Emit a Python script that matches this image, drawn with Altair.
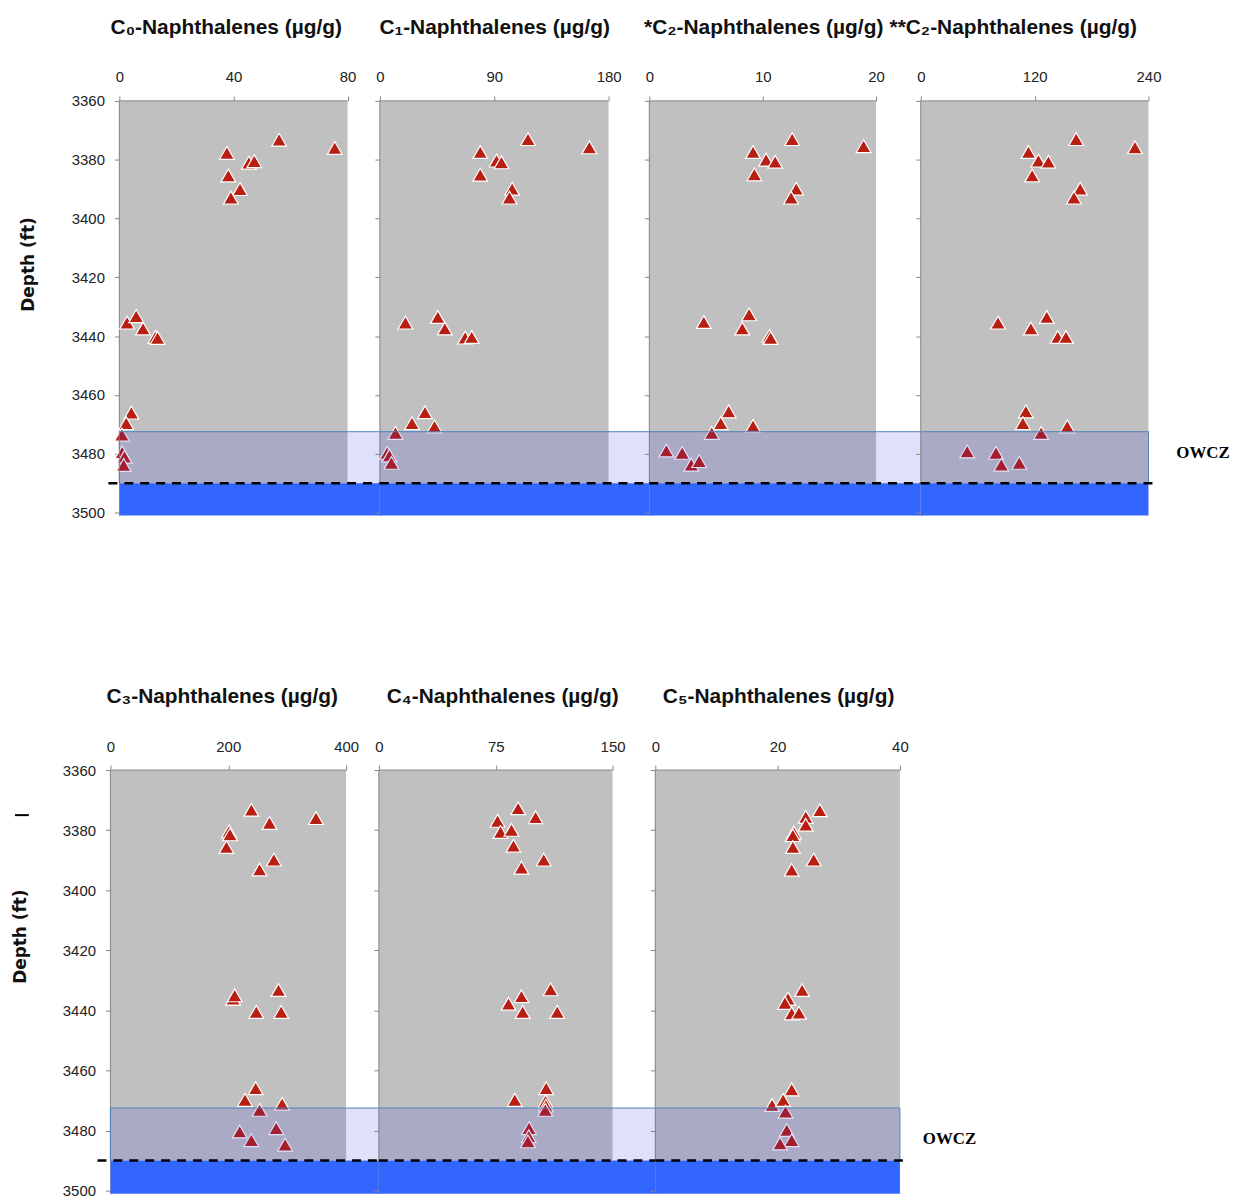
import altair as alt
import pandas as pd

# ---------------- data ----------------
c0_depth = [3373.2, 3376.0, 3377.7, 3381.0, 3380.5, 3385.4, 3390.0, 3392.9,
            3435.4, 3433.2, 3437.4, 3440.3, 3440.6,
            3466.0, 3469.6, 3473.5, 3479.5, 3481.0, 3483.8]
c0_val = [56.0, 75.5, 37.7, 45.4, 47.3, 38.2, 42.3, 39.1,
          2.7, 5.9, 8.3, 12.6, 13.4,
          4.2, 2.4, 0.9, 1.0, 1.8, 1.5]

c1_depth = [3373.0, 3375.8, 3377.4, 3380.3, 3380.9, 3385.1, 3389.9, 3392.9,
            3435.4, 3433.5, 3437.4, 3440.5, 3440.3,
            3465.9, 3469.6, 3470.7, 3472.9, 3479.7, 3480.6, 3483.1]
c1_val = [116.6, 164.9, 79.0, 91.8, 95.7, 79.0, 104.1, 102.0,
          20.1, 45.6, 51.1, 67.1, 72.3,
          35.5, 25.3, 43.0, 12.3, 5.7, 7.5, 9.1]

c2a_depth = [3373.0, 3375.4, 3377.4, 3380.0, 3380.7, 3385.0, 3389.9, 3392.9,
             3435.2, 3432.6, 3437.4, 3439.9, 3440.6,
             3465.6, 3469.6, 3470.5, 3472.9, 3478.9, 3479.7, 3483.7, 3482.5]
c2a_val = [12.6, 18.9, 9.15, 10.3, 11.1, 9.27, 12.96, 12.5,
           4.8, 8.8, 8.2, 10.6, 10.7,
           7.0, 6.3, 9.15, 5.5, 1.5, 2.9, 3.7, 4.4]

c2b_depth = [3373.0, 3375.8, 3377.4, 3380.3, 3380.7, 3385.4, 3389.9, 3392.9,
             3435.4, 3433.5, 3437.4, 3440.3, 3440.3,
             3465.6, 3469.6, 3470.7, 3472.9, 3479.2, 3479.7, 3483.7, 3483.1]
c2b_val = [163.8, 225.7, 113.5, 124.0, 134.5, 117.4, 168.0, 161.4,
           81.4, 132.8, 116.0, 144.3, 153.0,
           110.7, 107.6, 154.4, 126.8, 48.9, 79.3, 84.9, 103.8]

c3_depth = [3373.2, 3376.0, 3377.6, 3380.4, 3381.4, 3385.6, 3389.8, 3393.1,
            3436.1, 3435.0, 3433.2, 3440.5, 3440.5,
            3465.9, 3469.8, 3471.1, 3473.1, 3480.3, 3479.2, 3483.2, 3484.7]
c3_val = [239.2, 348.9, 270.0, 201.4, 203.0, 197.0, 277.4, 253.2,
          208.2, 211.0, 285.3, 247.6, 289.8,
          246.5, 228.4, 291.5, 253.2, 219.4, 281.4, 239.2, 296.6]

c4_depth = [3372.7, 3375.7, 3376.9, 3380.6, 3379.9, 3385.2, 3389.8, 3392.5,
            3437.8, 3435.3, 3440.5, 3433.0, 3440.5,
            3465.9, 3469.8, 3470.3, 3471.7, 3473.1, 3479.2, 3481.9, 3483.6]
c4_val = [89.4, 100.6, 76.2, 78.1, 85.1, 86.4, 105.8, 91.5,
          83.2, 91.5, 92.3, 110.2, 114.5,
          107.4, 87.2, 107.0, 107.2, 106.8, 96.4, 96.2, 95.7]

c5_depth = [3373.4, 3375.6, 3378.2, 3380.8, 3381.7, 3385.6, 3389.8, 3393.2,
            3436.1, 3437.5, 3433.2, 3441.0, 3440.8,
            3466.3, 3471.5, 3469.8, 3473.7, 3479.8, 3483.2, 3484.3]
c5_val = [26.9, 24.6, 24.6, 22.65, 22.5, 22.5, 25.9, 22.3,
          21.7, 21.2, 24.0, 22.3, 23.5,
          22.3, 19.1, 20.9, 21.3, 21.5, 22.3, 20.4]

titles = ["C\u2080-Naphthalenes (\u00b5g/g)", "C\u2081-Naphthalenes (\u00b5g/g)",
          "*C\u2082-Naphthalenes (\u00b5g/g)", "**C\u2082-Naphthalenes (\u00b5g/g)",
          "C\u2083-Naphthalenes (\u00b5g/g)", "C\u2084-Naphthalenes (\u00b5g/g)",
          "C\u2085-Naphthalenes (\u00b5g/g)"]
x_max = [80, 180, 20, 240, 400, 150, 40]
x_ticks = [[0, 40, 80], [0, 90, 180], [0, 10, 20], [0, 120, 240],
           [0, 200, 400], [0, 75, 150], [0, 20, 40]]
y_ticks = [3360, 3380, 3400, 3420, 3440, 3460, 3480, 3500]
Y_MIN, Y_MAX = 3360, 3501
GRAY_BOTTOM = 3490      # oil-water contact (dashed line)
OWCZ_TOP = 3472.5       # top of oil-water contact zone
OWCZ_LABEL = "OWCZ"
Y_TITLE = "Depth (ft)"

# ---------------- styling ----------------
AXIS_GRAY = "#868686"
LABEL_FONT = "Liberation Sans Narrow, Liberation Sans, sans-serif"
TITLE_FONT = "Liberation Sans Narrow, Liberation Sans, sans-serif"


def make_panel(idx, vals, depths, gray_w, total_w, height, title_dx,
               first=False, last=False, lpad=0, ytitle_x=-91, ytitle_y=164,
               rule_left_px=0, rule_right_px=0, owcz_px=28, owcz_depth=3480,
               dash_mark=None):
    xmax = x_max[idx]
    per_px = xmax / gray_w
    xdom = xmax * total_w / gray_w
    xscale = alt.Scale(domain=[-lpad * per_px, xdom], nice=False, zero=False)
    yscale = alt.Scale(domain=[Y_MIN, Y_MAX], reverse=True, nice=False, zero=False)
    xaxis = alt.Axis(orient="top", values=x_ticks[idx], domain=False, grid=False,
                     tickSize=5, tickColor=AXIS_GRAY, labelFont=LABEL_FONT,
                     labelFontSize=15, labelColor="#222", labelPadding=11,
                     labelFlush=False, labelOverlap=False, title=None)
    yaxis_kw = dict(values=y_ticks, grid=False, domain=True, domainColor=AXIS_GRAY,
                    tickColor=AXIS_GRAY, tickSize=5, labels=first, format="d",
                    labelFont=LABEL_FONT, labelFontSize=15, labelColor="#222",
                    labelPadding=10, labelFlush=False, labelOverlap=False,
                    offset=-lpad)
    if first:
        yaxis = alt.Axis(title=Y_TITLE, titleFont="DejaVu Sans", titleFontSize=17,
                         titleFontWeight="bold", titleColor="#111", titleAngle=270,
                         titleAlign="center", titleBaseline="middle",
                         titleX=ytitle_x, titleY=ytitle_y, **yaxis_kw)
    else:
        yaxis = alt.Axis(title=None, **yaxis_kw)

    def X(f):
        return alt.X(f, type="quantitative", scale=xscale, axis=xaxis)

    def Y(f):
        return alt.Y(f, type="quantitative", scale=yscale, axis=yaxis)

    band_end = xmax if last else xdom
    layers = []
    gray = alt.Chart(pd.DataFrame({"x": [0], "x2": [xmax], "y": [Y_MIN], "y2": [GRAY_BOTTOM]})).mark_rect(
        fill="#c0c0c0", strokeWidth=0).encode(x=X("x"), x2="x2", y=Y("y"), y2="y2")
    layers.append(gray)
    # plot-area border lines (top axis line and left axis line)
    layers.append(alt.Chart(pd.DataFrame({"x": [0], "x2": [xmax], "y": [Y_MIN]})).mark_rule(
        color=AXIS_GRAY, strokeWidth=1).encode(x=X("x"), x2="x2", y=Y("y")))
    layers.append(alt.Chart(pd.DataFrame({"x": [0], "y": [Y_MIN], "y2": [GRAY_BOTTOM]})).mark_rule(
        color=AXIS_GRAY, strokeWidth=1).encode(x=X("x"), y=Y("y"), y2="y2"))
    pts = alt.Chart(pd.DataFrame({"x": vals, "y": depths})).mark_point(
        shape="triangle-up", filled=True, fill="#b81e12", stroke="white", strokeWidth=1.2,
        size=220, opacity=1, fillOpacity=1).encode(x=X("x"), y=Y("y"))
    layers.append(pts)
    band = alt.Chart(pd.DataFrame({"x": [0], "x2": [band_end], "y": [OWCZ_TOP], "y2": [GRAY_BOTTOM]})).mark_rect(
        fill="#2626dc", fillOpacity=0.14, strokeWidth=0).encode(x=X("x"), x2="x2", y=Y("y"), y2="y2")
    layers.append(band)
    band_top = alt.Chart(pd.DataFrame({"x": [0], "x2": [band_end], "y": [OWCZ_TOP]})).mark_rule(
        color="#4f81bd", strokeWidth=1).encode(x=X("x"), x2="x2", y=Y("y"))
    layers.append(band_top)
    edges = []
    if first:
        edges.append(0)
    if last:
        edges.append(xmax)
    if edges:
        layers.append(alt.Chart(pd.DataFrame({"x": edges, "y": [OWCZ_TOP] * len(edges),
                                              "y2": [GRAY_BOTTOM] * len(edges)})).mark_rule(
            color="#4f81bd", strokeWidth=1).encode(x=X("x"), y=Y("y"), y2="y2"))
    blue = alt.Chart(pd.DataFrame({"x": [0], "x2": [band_end], "y": [GRAY_BOTTOM], "y2": [Y_MAX]})).mark_rect(
        fill="#3366ff", strokeWidth=0).encode(x=X("x"), x2="x2", y=Y("y"), y2="y2")
    layers.append(blue)
    dash_start = -rule_left_px * per_px
    dash_end = (xmax if last else xdom) + rule_right_px * per_px
    dashed = alt.Chart(pd.DataFrame({"x": [dash_start], "x2": [dash_end], "y": [GRAY_BOTTOM]})).mark_rule(
        color="black", strokeWidth=2.5, strokeDash=[9, 7]).encode(x=X("x"), x2="x2", y=Y("y"))
    layers.append(dashed)
    if last:
        layers.append(alt.Chart(pd.DataFrame({"x": [xmax + owcz_px * per_px], "y": [owcz_depth],
                                              "t": [OWCZ_LABEL]})).mark_text(
            font="Liberation Serif", fontSize=17, fontWeight="bold", color="black",
            align="left", baseline="middle").encode(x=X("x"), y=Y("y"), text="t:N"))
    if dash_mark is not None:
        layers.append(alt.Chart(pd.DataFrame({"x": [dash_mark[0] * per_px], "x2": [dash_mark[1] * per_px],
                                              "y": [dash_mark[2]]})).mark_rule(
            color="black", strokeWidth=2).encode(x=X("x"), x2="x2", y=Y("y")))

    return alt.layer(*layers).properties(
        width=total_w + lpad, height=height,
        title=alt.TitleParams(text=titles[idx], font=TITLE_FONT, fontSize=21, fontWeight="bold",
                              color="#111", anchor="middle", frame="group", dx=title_dx, offset=32))


TOP_H = 417
BOT_H = 426

p1 = make_panel(0, c0_val, c0_depth, 229.5, 262, TOP_H, -19, first=True, lpad=9, rule_left_px=11,
                ytitle_x=-91, ytitle_y=164)
p2 = make_panel(1, c1_val, c1_depth, 230, 271, TOP_H, -20)
p3 = make_panel(2, c2a_val, c2a_depth, 228, 273, TOP_H, -21.5)
p4 = make_panel(3, c2b_val, c2b_depth, 229, 229, TOP_H, -21.5, last=True, rule_right_px=8,
                owcz_px=28, owcz_depth=3479.7)

p5 = make_panel(4, c3_val, c3_depth, 237, 270, BOT_H, -22.5, first=True, rule_left_px=13,
                ytitle_x=-90, ytitle_y=167, dash_mark=(-96, -82, 3375))
p6 = make_panel(5, c4_val, c4_depth, 235, 278, BOT_H, -14.5)
p7 = make_panel(6, c5_val, c5_depth, 246, 246, BOT_H, 1, last=True, rule_right_px=6,
                owcz_px=23, owcz_depth=3482.7)

top = alt.hconcat(p1, p2, p3, p4, spacing=0, bounds="flush")
bottom = alt.hconcat(p5, p6, p7, spacing=0, bounds="flush")

chart = alt.vconcat(top, bottom, spacing=166).configure_view(
    stroke=None).properties(background="white",
                            padding={"left": 4, "top": 6, "right": 5, "bottom": 5})

chart.save("out.html", embed_options={"renderer": "svg", "actions": False})
